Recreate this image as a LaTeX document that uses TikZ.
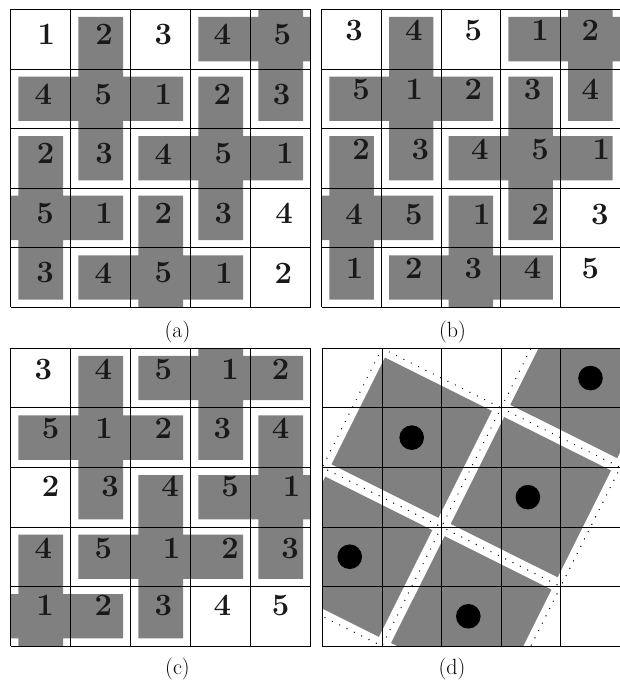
\documentclass[tikz,border=0pt]{standalone}
\usepackage{fontspec}
\tikzset{
  numtxt/.style={font=\fontsize{31}{32}\selectfont\bfseries, inner sep=0pt, anchor=center, text=black!90},
  captxt/.style={font=\fontsize{22}{24}\selectfont, anchor=base, inner sep=0pt},
  gridline/.style={line width=0.8pt, draw=black},
  tilefill/.style={fill=gray},
  gapdots/.style={line width=1.4pt, line cap=round, dash pattern=on 0pt off 8.2pt},
  blackdot/.style={circle, fill=black, minimum size=24.6pt, inner sep=0pt},
}
\newcommand{\pentoplus}[2]{%
  \fill[tilefill] (#1+0.128,#2-1+0.128) -- (#1+1-0.128,#2-1+0.128) -- (#1+1-0.128,#2+0.128)
    -- (#1+2-0.128,#2+0.128) -- (#1+2-0.128,#2+1-0.128) -- (#1+1-0.128,#2+1-0.128)
    -- (#1+1-0.128,#2+2-0.128) -- (#1+0.128,#2+2-0.128) -- (#1+0.128,#2+1-0.128)
    -- (#1-1+0.128,#2+1-0.128) -- (#1-1+0.128,#2+0.128) -- (#1+0.128,#2+0.128) -- cycle;}
\newcommand{\panelgrid}{%
  \foreach \k in {0,...,5} {
    \draw[gridline] (\k,0) -- (\k,5);
    \draw[gridline] (0,\k) -- (5,\k);
  }}
\begin{document}
\begin{tikzpicture}
\useasboundingbox (0pt,0pt) rectangle (620pt,-681pt);

% ---------------- panel (a)
\begin{scope}[shift={(10.7pt,-9.3pt)}, x={(60pt,0pt)}, y={(0pt,-59.6pt)}]
  \begin{scope}
    \clip (0,0) rectangle (5,5);
    \pentoplus{4}{0}
    \pentoplus{1}{1}
    \pentoplus{3}{2}
    \pentoplus{0}{3}
    \pentoplus{2}{4}
  \end{scope}
  \foreach \n/\dx [count=\c from 0] in {1/5.7,2/3.3,3/2.7,4/1.7,5/1.7}
    \node[numtxt, xshift=\dx pt, yshift=4.5pt] (a-0-\c) at (\c+0.5,0.5) {\n};
  \foreach \n/\dx [count=\c from 0] in {4/2.7,5/2.7,1/2.7,2/1.7,3/1}
    \node[numtxt, xshift=\dx pt, yshift=4.5pt] (a-1-\c) at (\c+0.5,1.5) {\n};
  \foreach \n/\dx [count=\c from 0] in {2/5,3/3.3,4/2.7,5/2.7,1/4.3}
    \node[numtxt, xshift=\dx pt, yshift=4.5pt] (a-2-\c) at (\c+0.5,2.5) {\n};
  \foreach \n/\dx [count=\c from 0] in {5/4.3,1/3.3,2/2.7,3/2.7,4/3.3}
    \node[numtxt, xshift=\dx pt, yshift=4.5pt] (a-3-\c) at (\c+0.5,3.5) {\n};
  \foreach \n/\dx [count=\c from 0] in {3/4.3,4/2.7,5/2.7,1/3.3,2/2.7}
    \node[numtxt, xshift=\dx pt, yshift=4.5pt] (a-4-\c) at (\c+0.5,4.5) {\n};
  \panelgrid
\end{scope}

% ---------------- panel (b)
\begin{scope}[shift={(321.7pt,-9.3pt)}, x={(59.7pt,0pt)}, y={(0pt,-59.6pt)}]
  \begin{scope}
    \clip (0,0) rectangle (5,5);
    \pentoplus{4}{0}
    \pentoplus{1}{1}
    \pentoplus{3}{2}
    \pentoplus{0}{3}
    \pentoplus{2}{4}
  \end{scope}
  \foreach \n/\dx [count=\c from 0] in {3/2.5,4/2.5,5/2.5,1/9.5,2/0}
    \node[numtxt, xshift=\dx pt, yshift=9pt] (b-0-\c) at (\c+0.5,0.5) {\n};
  \foreach \n/\dx [count=\c from 0] in {5/9.5,1/3,2/2.5,3/2,4/0}
    \node[numtxt, xshift=\dx pt, yshift=9pt] (b-1-\c) at (\c+0.5,1.5) {\n};
  \foreach \n/\dx [count=\c from 0] in {2/9.5,3/9,4/9,5/9.5,1/11}
    \node[numtxt, xshift=\dx pt, yshift=9pt] (b-2-\c) at (\c+0.5,2.5) {\n};
  \foreach \n/\dx [count=\c from 0] in {4/2.5,5/2.5,1/11,2/9.5,3/9.5}
    \node[numtxt, xshift=\dx pt, yshift=3.5pt] (b-3-\c) at (\c+0.5,3.5) {\n};
  \foreach \n/\dx [count=\c from 0] in {1/3,2/2.5,3/2.5,4/2,5/0}
    \node[numtxt, xshift=\dx pt, yshift=9pt] (b-4-\c) at (\c+0.5,4.5) {\n};
  \panelgrid
\end{scope}

% ---------------- panel (c)
\begin{scope}[shift={(10.7pt,-348.3pt)}, x={(60pt,0pt)}, y={(0pt,-59.55pt)}]
  \begin{scope}
    \clip (0,0) rectangle (5,5);
    \pentoplus{3}{0}
    \pentoplus{1}{1}
    \pentoplus{4}{2}
    \pentoplus{2}{3}
    \pentoplus{0}{4}
  \end{scope}
  \foreach \n/\dx [count=\c from 0] in {3/2.7,4/2.7,5/2.7,1/9.3,2/0}
    \node[numtxt, xshift=\dx pt, yshift=9pt] (c-0-\c) at (\c+0.5,0.5) {\n};
  \foreach \n/\dx [count=\c from 0] in {5/10,1/3.3,2/2.7,3/1.7,4/0}
    \node[numtxt, xshift=\dx pt, yshift=9pt] (c-1-\c) at (\c+0.5,1.5) {\n};
  \foreach \n/\dx [count=\c from 0] in {2/10,3/9.3,4/9.3,5/9.3,1/11}
    \node[numtxt, xshift=\dx pt, yshift=10.5pt] (c-2-\c) at (\c+0.5,2.5) {\n};
  \foreach \n/\dx [count=\c from 0] in {4/2.7,5/2.7,1/11,2/9.3,3/9.3}
    \node[numtxt, xshift=\dx pt, yshift=8.7pt] (c-3-\c) at (\c+0.5,3.5) {\n};
  \foreach \n/\dx [count=\c from 0] in {1/4.3,2/2.7,3/2.7,4/1.7,5/0}
    \node[numtxt, xshift=\dx pt, yshift=11pt] (c-4-\c) at (\c+0.5,4.5) {\n};
  \panelgrid
\end{scope}

% ---------------- panel (d)
\begin{scope}[shift={(322.3pt,-348.3pt)}, x={(59.6pt,0pt)}, y={(0pt,-59.55pt)}]
  \begin{scope}
    \clip (0,0) rectangle (5,5);
    \foreach \cx/\cy in {4.5/0.5,1.5/1.5,3.5/2.5,0.5/3.5,2.5/4.5}
      \fill[tilefill, shift={(\cx,\cy)}, scale=0.897]
        (-0.5,-1.5) -- (1.5,-0.5) -- (0.5,1.5) -- (-1.5,0.5) -- cycle;
    \draw[gapdots] (1,0) -- (3,1) -- (2,3) -- (0,2) -- cycle;
    \draw[gapdots] (3,1) -- (5,2) -- (4,4) -- (2,3);
    \draw[gapdots] (3,1) -- (4,-1);
    \draw[gapdots] (2,3) -- (1,5) -- (-1,4);
    \draw[gapdots] (4,4) -- (3,6);
  \end{scope}
  \node[blackdot] (d-1) at (4.5,0.5) {};
  \node[blackdot] (d-2) at (1.5,1.5) {};
  \node[blackdot] (d-3) at (3.45,2.5) {};
  \node[blackdot] (d-4) at (0.46,3.5) {};
  \node[blackdot] (d-5) at (2.45,4.5) {};
  \panelgrid
\end{scope}

% ---------------- captions
\node[captxt] (cap-a) at (177.5pt,-337.5pt) {(a)};
\node[captxt] (cap-b) at (452.5pt,-337.5pt) {(b)};
\node[captxt] (cap-c) at (177.5pt,-674.5pt) {(c)};
\node[captxt] (cap-d) at (452pt,-674.5pt) {(d)};
\end{tikzpicture}
\end{document}
